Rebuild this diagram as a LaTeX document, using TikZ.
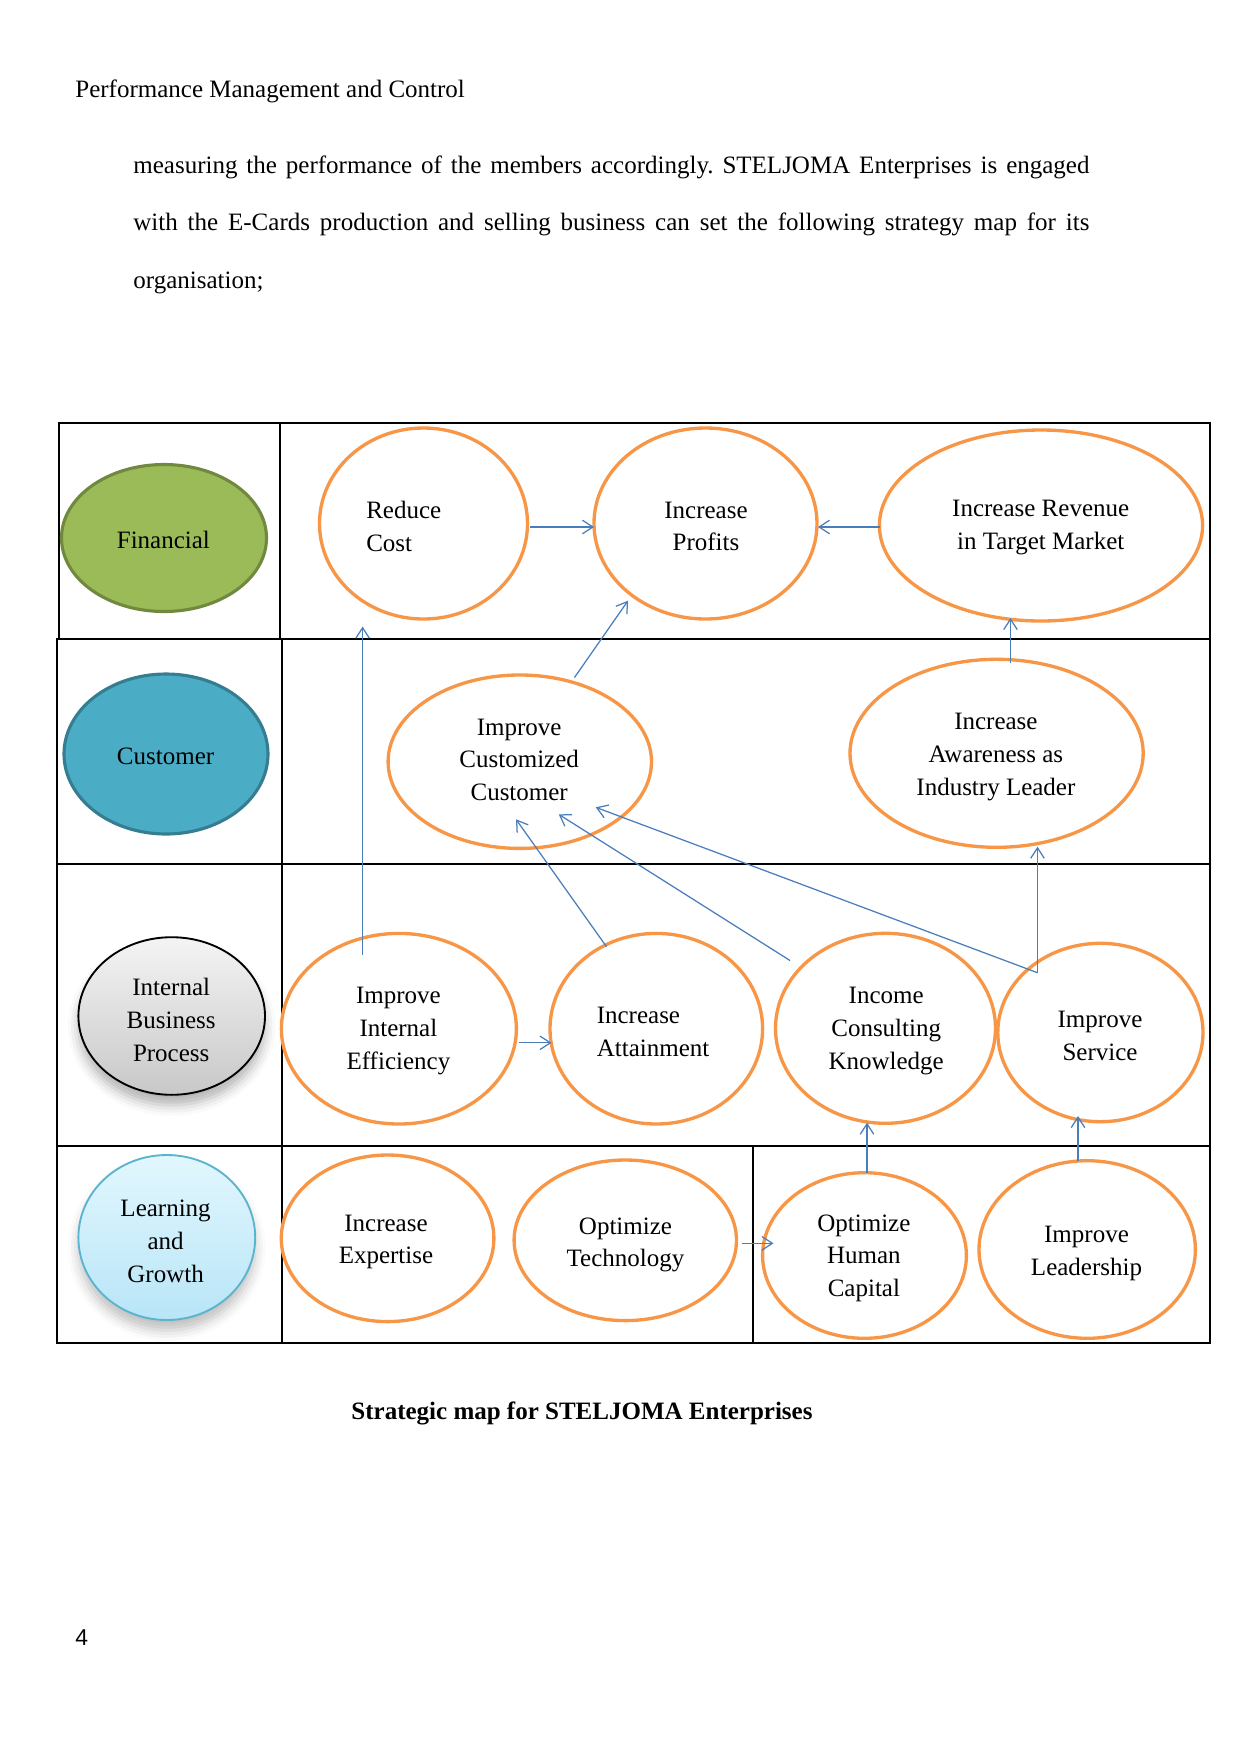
\documentclass[tikz,border=0pt]{standalone}
\usepackage{fontspec}
\setmainfont{Liberation Serif}
\newfontfamily\pagenumfont{Liberation Sans}
\usetikzlibrary{arrows.meta,shapes.geometric,shadows.blur}
\frenchspacing
\definecolor{goalorange}{HTML}{F79646}
\definecolor{arrowblue}{HTML}{4A7EBB}
\definecolor{fingreen}{HTML}{9BBB59}
\definecolor{fingreenedge}{HTML}{71893F}
\definecolor{custblue}{HTML}{4BACC6}
\definecolor{custedge}{HTML}{357D91}
\definecolor{ibptop}{HTML}{F4F4F4}
\definecolor{ibpbottom}{HTML}{C8C8C8}
\definecolor{lgtop}{HTML}{E2F7FE}
\definecolor{lgbottom}{HTML}{B8E5F7}
\definecolor{lgedge}{HTML}{5AB4CE}
\tikzset{
  radii/.style 2 args={minimum width={0.96pt*#1}, minimum height={0.96pt*#2}},
  goal/.style={ellipse, draw=goalorange, line width=1.6pt, inner sep=0pt},
  persp/.style={ellipse, inner sep=0pt},
  txt/.style={font=\fontsize{12}{15.7}\selectfont, align=center, inner sep=0pt, yshift=-1pt},
  txtl/.style={font=\fontsize{12}{15.7}\selectfont, align=left, inner sep=0pt, anchor=west, yshift=-1pt},
  link/.style={draw=arrowblue, line width=0.6pt, -{Straight Barb[length=5pt,width=6.5pt]}},
  gridline/.style={draw=black, line width=0.5pt},
  body/.style={font=\fontsize{12}{14}\selectfont, inner sep=0pt, anchor=base west}
}
\begin{document}
\begin{tikzpicture}[x=0.48pt,y=-0.48pt]
\useasboundingbox (0,0) rectangle (1241,1754);

% page texts
\node[body] (header) at (75,97) {Performance Management and Control};
\node[body] (line1) at (133,173) {\makebox[458.9pt][s]{measuring the performance of the members accordingly. STELJOMA Enterprises is engaged}};
\node[body] (line2) at (133,230) {\makebox[458.9pt][s]{with the E-Cards production and selling business can set the following strategy map for its}};
\node[body] (line3) at (133,288) {organisation;};
\node[body, anchor=base] (caption) at (582,1419) {\bfseries Strategic map for STELJOMA Enterprises};
\node[body, font=\pagenumfont\fontsize{11}{13}\selectfont] (pagenum) at (75,1645) {4};

% table
\draw[gridline] (59,423) rectangle (1210,639);
\draw[gridline] (280,423) -- (280,639);
\draw[gridline] (57,639) rectangle (1210,864);
\draw[gridline] (282,639) -- (282,864);
\draw[gridline] (57,864) rectangle (1210,1146);
\draw[gridline] (282,864) -- (282,1146);
\draw[gridline] (57,1146) rectangle (1210,1343);
\draw[gridline] (282,1146) -- (282,1343);
\draw[gridline] (753,1146) -- (753,1343);
\draw[black, line width=1pt] (57,639) -- (1210,639);

% perspective ellipses
\node[persp, radii={102.5}{73.5}, fill=fingreen, draw=fingreenedge, line width=1.5pt] (fin) at (164,538) {};
\node[persp, radii={102}{80}, fill=custblue, draw=custedge, line width=1.5pt] (cust) at (166,754) {};
\node[persp, radii={93.3}{78.8}, top color=ibptop, bottom color=ibpbottom, draw=black, line width=0.9pt,
      blur shadow={shadow xshift=0pt, shadow yshift=-5pt, shadow opacity=30, shadow blur radius=5pt}] (ibp) at (171.7,1016) {};
\node[persp, radii={88.4}{82.5}, top color=lgtop, bottom color=lgbottom, draw=lgedge, line width=0.9pt,
      blur shadow={shadow xshift=0pt, shadow yshift=-5pt, shadow opacity=25, shadow blur radius=5pt}] (lg) at (166.8,1237.5) {};

\node[txt] (tfin) at (163.4,538.2) {Financial};
\node[txt] (tcust) at (165.6,754.2) {Customer};
\node[txt] (tibp) at (171.2,1017.7) {Internal\\Business\\Process};
\node[txt] (tlg) at (165.6,1239.3) {Learning\\and\\Growth};

% goal ellipses
\node[goal, radii={104}{95.5}] (rc) at (423.5,523.5) {};
\node[goal, radii={111.5}{95.5}] (ip) at (705.5,523.5) {};
\node[goal, radii={161.6}{95.5}] (rv) at (1041,525.5) {};
\node[goal, radii={131.7}{86.7}] (icc) at (519.8,761.7) {};
\node[goal, radii={146.6}{94}] (aw) at (996.6,753.3) {};
\node[goal, radii={117.5}{95.3}] (ie) at (398.9,1028.7) {};
\node[goal, radii={106.3}{95.3}] (ia) at (656.3,1028.7) {};
\node[goal, radii={110}{95}] (ick) at (885.5,1028.3) {};
\node[goal, radii={102.6}{89.2}] (is) at (1100.4,1032.5) {};
\node[goal, radii={106.3}{83.3}] (iex) at (387.6,1238.3) {};
\node[goal, radii={111.2}{80.3}] (ot) at (625.3,1240.3) {};
\node[goal, radii={101.9}{82.8}] (ohc) at (864.5,1255.5) {};
\node[goal, radii={108.2}{88.8}] (il) at (1087.2,1249.5) {};

\node[txtl] (trc) at (365.9,524.2) {Reduce\\Cost};
\node[txt] (tip) at (706,524.2) {Increase\\Profits};
\node[txt] (trv) at (1040.7,525.4) {Increase Revenue\\in Target Market};
\node[txt] (ticc) at (519.2,757.6) {Improve\\Customized\\Customer};
\node[txt] (taw) at (995.9,754.8) {Increase\\Awareness as\\Industry Leader};
\node[txt] (tie) at (398.4,1028.9) {Improve\\Internal\\Efficiency};
\node[txtl] (tia) at (596.4,1030) {Increase\\Attainment};
\node[txt] (tick) at (886.2,1028.9) {Income\\Consulting\\Knowledge};
\node[txt] (tis) at (1100,1034) {Improve\\Service};
\node[txt] (tiex) at (386,1239.9) {Increase\\Expertise};
\node[txt] (tot) at (625.5,1242.7) {Optimize\\Technology};
\node[txt] (tohc) at (863.9,1256) {Optimize\\Human\\Capital};
\node[txt] (til) at (1086.5,1251.6) {Improve\\Leadership};

% connector end points
\coordinate (c1s) at (530,527);   \coordinate (c1e) at (594,527);
\coordinate (c2s) at (880,527);   \coordinate (c2e) at (818,527);
\coordinate (c3s) at (362.6,955); \coordinate (c3e) at (362.6,626.6);
\coordinate (c4s) at (574.5,677.5); \coordinate (c4e) at (628,600.7);
\coordinate (c5s) at (1010.5,663); \coordinate (c5e) at (1010.5,618);
\coordinate (c6s) at (606.5,946.7); \coordinate (c6e) at (516,819.3);
\coordinate (c7s) at (790,960.5); \coordinate (c7e) at (558.7,814.3);
\coordinate (c8s) at (1037.5,972.7); \coordinate (c8e) at (595.7,807.3);
\coordinate (c9s) at (1037.5,972.7); \coordinate (c9e) at (1037.5,846.7);
\coordinate (c10s) at (518.5,1042.8); \coordinate (c10e) at (551.5,1042.8);
\coordinate (c11s) at (867,1173); \coordinate (c11e) at (867,1122.7);
\coordinate (c12s) at (1078,1161); \coordinate (c12e) at (1078,1116);
\coordinate (c13s) at (741.7,1243.3); \coordinate (c13e) at (773.5,1243.3);

\draw[link] (c1s) -- (c1e);
\draw[link] (c2s) -- (c2e);
\draw[link] (c3s) -- (c3e);
\draw[link] (c4s) -- (c4e);
\draw[link] (c5s) -- (c5e);
\draw[link] (c6s) -- (c6e);
\draw[link] (c7s) -- (c7e);
\draw[link] (c8s) -- (c8e);
\draw[link] (c9s) -- (c9e);
\draw[link] (c10s) -- (c10e);
\draw[link] (c11s) -- (c11e);
\draw[link] (c12s) -- (c12e);
\draw[link] (c13s) -- (c13e);
\end{tikzpicture}
\end{document}
